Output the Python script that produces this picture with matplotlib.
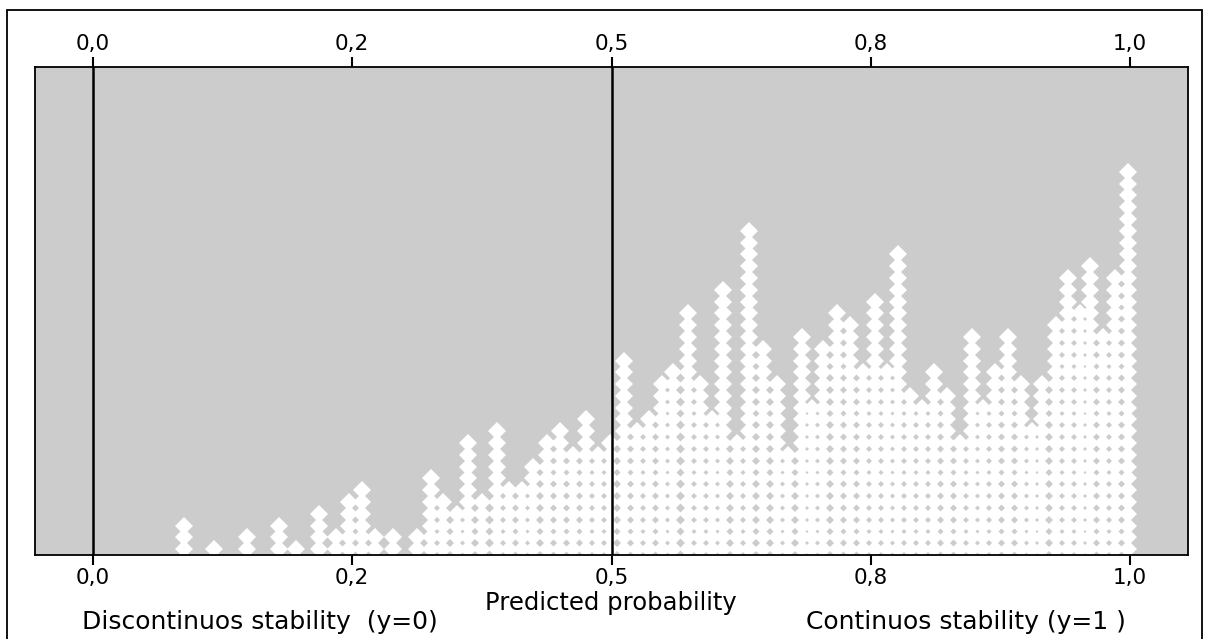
import matplotlib
matplotlib.use("Agg")
import matplotlib.pyplot as plt
import numpy as np
from matplotlib.patches import Rectangle

plt.rcParams['font.family'] = ['DejaVu Sans']

# Predicted probability of each dot column (axis scale: 0 .. 1)
positions = [0.0878, 0.1168, 0.1482, 0.1796, 0.1958, 0.2182, 0.2343, 0.2469, 0.2594, 0.2720,
             0.2893, 0.3124, 0.3257, 0.3375, 0.3507, 0.3616, 0.3748, 0.3896, 0.4016, 0.4134,
             0.4243, 0.4375, 0.4503, 0.4626, 0.4754, 0.4870, 0.4986, 0.5120, 0.5243, 0.5362,
             0.5484, 0.5593, 0.5738, 0.5854, 0.5967, 0.6075, 0.6207, 0.6326, 0.6461, 0.6593,
             0.6702, 0.6834, 0.6930, 0.7040, 0.7172, 0.7300, 0.7422, 0.7541, 0.7654, 0.7763,
             0.7878, 0.7994, 0.8110, 0.8232, 0.8360, 0.8473, 0.8582, 0.8698, 0.8820, 0.8949,
             0.9052, 0.9148, 0.9286, 0.9402, 0.9518, 0.9614, 0.9737, 0.9855, 0.9978]
# Number of cases stacked in each column
counts = [3, 1, 2, 3, 1, 4, 2, 5, 6, 2,
          2, 2, 7, 5, 4, 10, 5, 11, 6, 6,
          8, 10, 11, 9, 12, 9, 10, 17, 11, 12,
          15, 16, 21, 15, 12, 23, 10, 28, 18, 15,
          9, 19, 13, 18, 21, 20, 16, 22, 16, 26,
          14, 13, 16, 14, 10, 19, 13, 16, 19, 15,
          11, 15, 20, 24, 21, 25, 19, 24, 33]

tick_values = [0.0, 0.25, 0.5, 0.75, 1.0]
tick_labels = ["0,0", "0,2", "0,5", "0,8", "1,0"]
ref_lines = [0.0, 0.5]

W, H = 1205, 639
fig = plt.figure(figsize=(W / 100, H / 100), dpi=100)
fig.patch.set_facecolor("white")

# outer frame
fig.patches.append(Rectangle((7 / W, -0.02), (1202 - 7) / W, 1.02 - 10 / H,
                             transform=fig.transFigure, fill=False,
                             edgecolor="black", linewidth=1.3))

ax = fig.add_axes([35 / W, (H - 555) / H, (1188 - 35) / W, (555 - 67) / H])
ax.set_facecolor("#cccccc")

for p, n in zip(positions, counts):
    ys = np.arange(n) + 0.5
    ax.plot(np.full(n, p), ys, linestyle="none", marker="D", markersize=9.2,
            color="white", markeredgewidth=0, zorder=2)

for v in ref_lines:
    ax.axvline(v, color="black", linewidth=1.8, zorder=3)

ax.set_xlim(-0.0559, 1.0559)
ax.set_ylim(0, 41.4)
ax.set_yticks([])
ax.set_xticks(tick_values)
ax.set_xticklabels(tick_labels)
ax.tick_params(axis="x", which="both", top=True, labeltop=True, bottom=True,
               labelbottom=True, direction="out", length=7.5, width=1.5,
               pad=2, labelsize=15.5, colors="black")
for s in ax.spines.values():
    s.set_linewidth(1.3)
    s.set_color("black")

fig.text(611 / W, 1 - 603 / H, "Predicted probability", ha="center", va="center",
         fontsize=17.5)
fig.text(82 / W, 1 - 622 / H, "Discontinuos stability  (y=0)", ha="left",
         va="center", fontsize=18)
fig.text(806 / W, 1 - 622 / H, "Continuos stability (y=1 )", ha="left",
         va="center", fontsize=18)

fig.savefig("out.png", dpi=100)
